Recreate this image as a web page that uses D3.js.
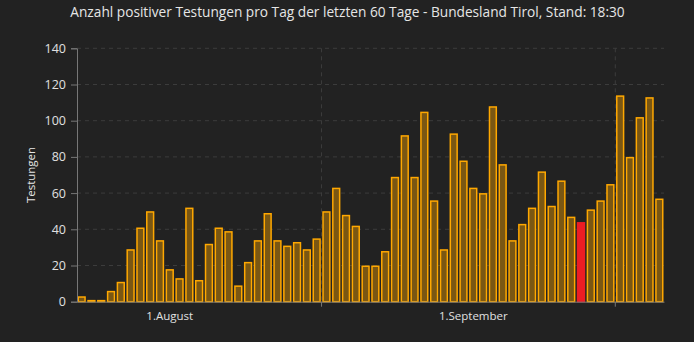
<!DOCTYPE html>
<html><head><meta charset="utf-8">
<script src="https://cdn.jsdelivr.net/npm/d3@7"></script>
<style>
html,body{margin:0;padding:0;background:#222222;}
svg{display:block;font-family:"Open Sans",sans-serif;}
</style></head>
<body><svg id="c" width="694" height="342"></svg>
<script>
const days = ["23.07","24.07","25.07","26.07","27.07","28.07","29.07","30.07","31.07",
"01.08","02.08","03.08","04.08","05.08","06.08","07.08","08.08","09.08","10.08","11.08","12.08","13.08","14.08","15.08","16.08","17.08","18.08","19.08","20.08","21.08","22.08","23.08","24.08","25.08","26.08","27.08","28.08","29.08","30.08","31.08",
"01.09","02.09","03.09","04.09","05.09","06.09","07.09","08.09","09.09","10.09","11.09","12.09","13.09","14.09","15.09","16.09","17.09","18.09","19.09","20.09"];
const positives = [3,1,1,6,11,29,41,50,34,18,13,52,12,32,41,39,9,22,34,49,34,31,33,29,35,50,63,48,42,20,20,28,69,92,69,105,56,29,93,78,63,60,108,76,34,43,52,72,53,67,47,44,51,56,65,114,80,102,113,57];
const highlightDay = "12.09";
const monthLabelDays = ["01.08","01.09"];
const monthLabels = ["1.August","1.September"];
const gridDays = ["17.08","16.09"];
const yTicks = [0,20,40,60,80,100,120,140];
const title = "Anzahl positiver Testungen pro Tag der letzten 60 Tage - Bundesland Tirol, Stand: 18:30";
const yTitle = "Testungen";

const svg = d3.select("#c");
const L = 77, R = 664, T = 48.3, B = 301.7;
const x = d3.scaleBand().domain(days).range([L, R]).paddingInner(0.15).paddingOuter(0.05);
const y = d3.scaleLinear().domain([0, 140]).range([B, T]);

svg.append("text").attr("x", 347.5).attr("y", 17).attr("text-anchor", "middle")
  .attr("fill", "#e6e6e6").attr("font-size", 13.7).text(title);

// horizontal grid
svg.append("g").selectAll("line").data(yTicks.filter(d => d > 0)).join("line")
  .attr("x1", L).attr("x2", R).attr("y1", d => y(d)).attr("y2", d => y(d))
  .attr("stroke", "#3c3c3c").attr("stroke-dasharray", "4,4");

const gx = d => x(d) - x.step() * x.paddingInner() / 2;
// vertical grid
svg.append("g").selectAll("line").data(gridDays).join("line")
  .attr("x1", gx).attr("x2", gx)
  .attr("y1", T).attr("y2", B)
  .attr("stroke", "#3c3c3c").attr("stroke-dasharray", "4,4");
svg.append("g").selectAll("line").data(gridDays).join("line")
  .attr("x1", gx).attr("x2", gx)
  .attr("y1", B).attr("y2", B + 5).attr("stroke", "#777");

// bars
const data = days.map((d, i) => ({day: d, v: positives[i]}));
svg.append("g").selectAll("rect").data(data).join("rect")
  .attr("x", d => x(d.day) + 0.75)
  .attr("width", x.bandwidth() - 1.5)
  .attr("y", d => y(d.v) + 0.75)
  .attr("height", d => Math.max(0, B - y(d.v) - 0.75))
  .attr("fill", d => d.day === highlightDay ? "#ed1c24" : "#7a5713")
  .attr("stroke", d => d.day === highlightDay ? "#ed1c24" : "#ffa800")
  .attr("stroke-width", 1.5);

// y axis
const ya = svg.append("g").attr("transform", `translate(${L},0)`)
  .call(d3.axisLeft(y).tickValues(yTicks).tickSize(6).tickPadding(5));
ya.select(".domain").attr("stroke", "#777");
ya.selectAll(".tick line").attr("stroke", "#777");
ya.selectAll(".tick text").attr("fill", "#e0e0e0").attr("font-size", 12.5).attr("font-family", "Open Sans, sans-serif");

// x axis
const xa = svg.append("g").attr("transform", `translate(0,${B})`)
  .call(d3.axisBottom(x).tickValues(monthLabelDays).tickFormat(d => monthLabels[monthLabelDays.indexOf(d)]).tickSize(0).tickPadding(10));
xa.select(".domain").attr("stroke", "#777");
xa.selectAll(".tick text").attr("fill", "#e0e0e0").attr("font-size", 11.5).attr("font-family", "Open Sans, sans-serif");

svg.append("text").attr("transform", `translate(35,175) rotate(-90)`)
  .attr("text-anchor", "middle").attr("fill", "#e6e6e6").attr("font-size", 11.5).text(yTitle);
</script></body></html>
